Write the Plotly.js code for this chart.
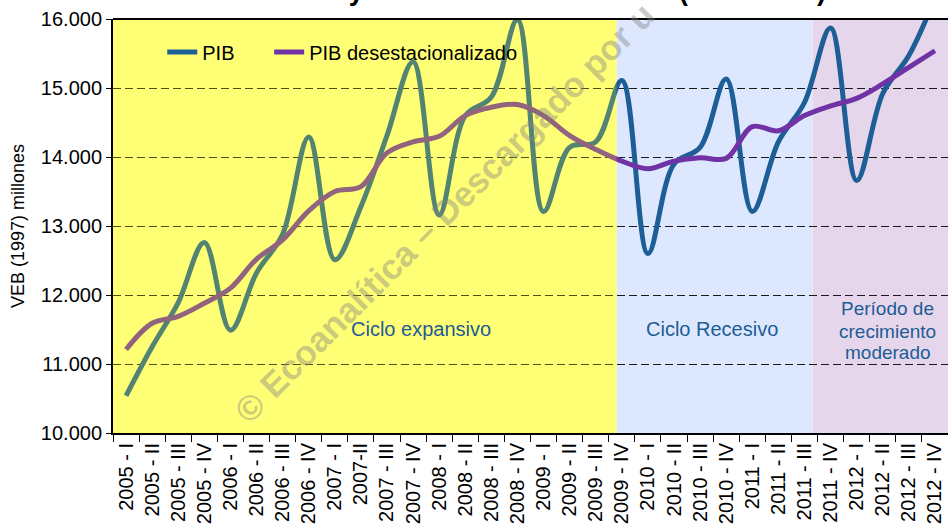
<!DOCTYPE html>
<html>
<head>
<meta charset="utf-8">
<script src="https://cdn.plot.ly/plotly-3.0.1.min.js"></script>
<style>
  html, body { margin: 0; padding: 0; background: #ffffff; }
  #chart { width: 948px; height: 532px; }
</style>
</head>
<body>
<div id="chart"></div>
<script>
// ---- Data ----
const quarters = [
  "2005 - I", "2005 - II", "2005 - III", "2005 - IV",
  "2006 - I", "2006 - II", "2006 - III", "2006 - IV",
  "2007 - I", "2007-II", "2007 - III", "2007 - IV",
  "2008 - I", "2008 - II", "2008 - III", "2008 - IV",
  "2009 - I", "2009 - II", "2009 - III", "2009 - IV",
  "2010 - I", "2010 - II", "2010 - III", "2010 - IV",
  "2011 - I", "2011 - II", "2011 - III", "2011 - IV",
  "2012 - I", "2012 - II", "2012 - III", "2012 - IV"
];
const pib = [
  10540, 11250, 11890, 12760,
  11490, 12320, 12880, 14290,
  12510, 13280, 14310, 15380,
  13160, 14600, 14870, 15990,
  13210, 14140, 14220, 15110,
  12600, 13900, 14140, 15130,
  13210, 14220, 14790, 15870,
  13660, 14920, 15470, 16300
];
const pibDesest = [
  11210, 11590, 11690, 11880,
  12100, 12520, 12800, 13220,
  13500, 13570, 14060, 14220,
  14300, 14600, 14720, 14760,
  14600, 14310, 14110, 13940,
  13830, 13940, 13990, 13980,
  14440, 14380, 14600, 14740,
  14850, 15060, 15300, 15540
];
const seriesNames = ["PIB", "PIB desestacionalizado"];
const periodLabels = ["Ciclo expansivo", "Ciclo Recesivo", "Período de", "crecimiento", "moderado"];
const chartTitle = "PIB y PIB desestacionalizado (2005-2012)";
const yTitle = "VEB (1997) millones";
const watermark = "© Ecoanalítica – Descargado por u";

// ---- Styling ----
const FONT = "Arial, 'Liberation Sans', sans-serif";
const BLUE = "rgb(29,94,150)";
const PURPLE = "rgb(112,50,164)";
const TEXTBLUE = "rgb(28,92,148)";

// region boundaries on the category index scale
const expEnd = 18.8, recEnd = 26.31, xMin = -0.5, xMax = 31.5;

const traces = [
  {
    type: "scatter", mode: "lines", name: seriesNames[0], legend: "legend",
    x: quarters, y: pib,
    line: { color: BLUE, width: 5, shape: "spline", smoothing: 1 },
    hoverinfo: "x+y"
  },
  {
    type: "scatter", mode: "lines", name: seriesNames[1], legend: "legend2",
    x: quarters, y: pibDesest,
    line: { color: PURPLE, width: 5, shape: "spline", smoothing: 1 },
    hoverinfo: "x+y"
  }
];

const shapes = [
  // expansive cycle background (yellow)
  { type: "rect", layer: "below", xref: "x", yref: "paper", x0: xMin, x1: expEnd, y0: 0, y1: 1,
    fillcolor: "rgb(255,255,155)", line: { width: 0 } },
  // recessive cycle background (light blue)
  { type: "rect", layer: "below", xref: "x", yref: "paper", x0: expEnd, x1: recEnd, y0: 0, y1: 1,
    fillcolor: "rgb(221,232,255)", line: { width: 0 } },
  // moderate growth background (light purple)
  { type: "rect", layer: "below", xref: "x", yref: "paper", x0: recEnd, x1: xMax, y0: 0, y1: 1,
    fillcolor: "rgb(230,214,236)", line: { width: 0 } },
  // yellow veil on top of the lines in the expansive region
  { type: "rect", layer: "above", xref: "x", yref: "paper", x0: xMin, x1: expEnd, y0: 0, y1: 1,
    fillcolor: "rgba(255,255,0,0.24)", line: { width: 0 } },
  // top frame line at 16.000
  { type: "line", layer: "above", xref: "paper", yref: "paper", x0: 0, x1: 1, y0: 1, y1: 1,
    line: { color: "#000000", width: 2 } }
];

const annotations = [
  { xref: "x", yref: "y", x: 11.31, y: 11507, text: periodLabels[0], showarrow: false,
    font: { family: FONT, size: 20, color: TEXTBLUE } },
  { xref: "x", yref: "y", x: 22.47, y: 11514, text: periodLabels[1], showarrow: false,
    font: { family: FONT, size: 20, color: TEXTBLUE } },
  { xref: "x", yref: "y", x: 29.2, y: 11800, text: periodLabels[2], showarrow: false,
    font: { family: FONT, size: 19, color: TEXTBLUE } },
  { xref: "x", yref: "y", x: 29.2, y: 11478, text: periodLabels[3], showarrow: false,
    font: { family: FONT, size: 19, color: TEXTBLUE } },
  { xref: "x", yref: "y", x: 29.2, y: 11160, text: periodLabels[4], showarrow: false,
    font: { family: FONT, size: 19, color: TEXTBLUE } },
  { xref: "x", yref: "y", x: 12.2, y: 13200, text: watermark, showarrow: false,
    textangle: -45, font: { family: FONT, size: 35, color: "rgba(128,128,128,0.42)", weight: "bold" } }
];

const legendFont = { family: FONT, size: 20, color: "#000000" };

const layout = {
  width: 948, height: 532,
  margin: { l: 113, r: 0, t: 19, b: 99, pad: 0 },
  paper_bgcolor: "#ffffff",
  plot_bgcolor: "#ffffff",
  separators: ",.",
  font: { family: FONT, color: "#000000" },
  title: {
    text: chartTitle,
    font: { family: FONT, size: 27, color: "#000000", weight: "bold" },
    xref: "container", yref: "container",
    x: 0.592, xanchor: "center",
    y: 1, yanchor: "bottom"
  },
  showlegend: true,
  legend: {
    orientation: "h",
    x: 0.059, xanchor: "left",
    y: 0.92, yanchor: "middle",
    bgcolor: "rgba(0,0,0,0)",
    font: legendFont
  },
  legend2: {
    orientation: "h",
    x: 0.187, xanchor: "left",
    y: 0.92, yanchor: "middle",
    bgcolor: "rgba(0,0,0,0)",
    font: legendFont
  },
  xaxis: {
    type: "category",
    categoryorder: "array", categoryarray: quarters,
    range: [xMin, xMax], fixedrange: true,
    tickangle: -90,
    tickfont: { family: FONT, size: 20, color: "#000000" },
    ticks: "outside", ticklen: 7, tickwidth: 1, tickcolor: "#000000",
    tickson: "boundaries",
    showgrid: false,
    showline: true, linecolor: "#000000", linewidth: 2,
    zeroline: false
  },
  yaxis: {
    range: [10000, 16000], fixedrange: true,
    dtick: 1000, tick0: 10000,
    tickformat: ",.0f",
    tickfont: { family: FONT, size: 20, color: "#000000" },
    ticks: "outside", ticklen: 5, tickwidth: 1, tickcolor: "#000000",
    showgrid: true, gridcolor: "#1a1a1a", gridwidth: 1, griddash: "8px,4px",
    showline: true, linecolor: "#000000", linewidth: 2,
    zeroline: false,
    title: { text: yTitle, font: { family: FONT, size: 18, color: "#000000" }, standoff: 12 }
  },
  shapes: shapes,
  annotations: annotations
};

Plotly.newPlot("chart", traces, layout, { displayModeBar: false, staticPlot: true });
</script>
</body>
</html>
